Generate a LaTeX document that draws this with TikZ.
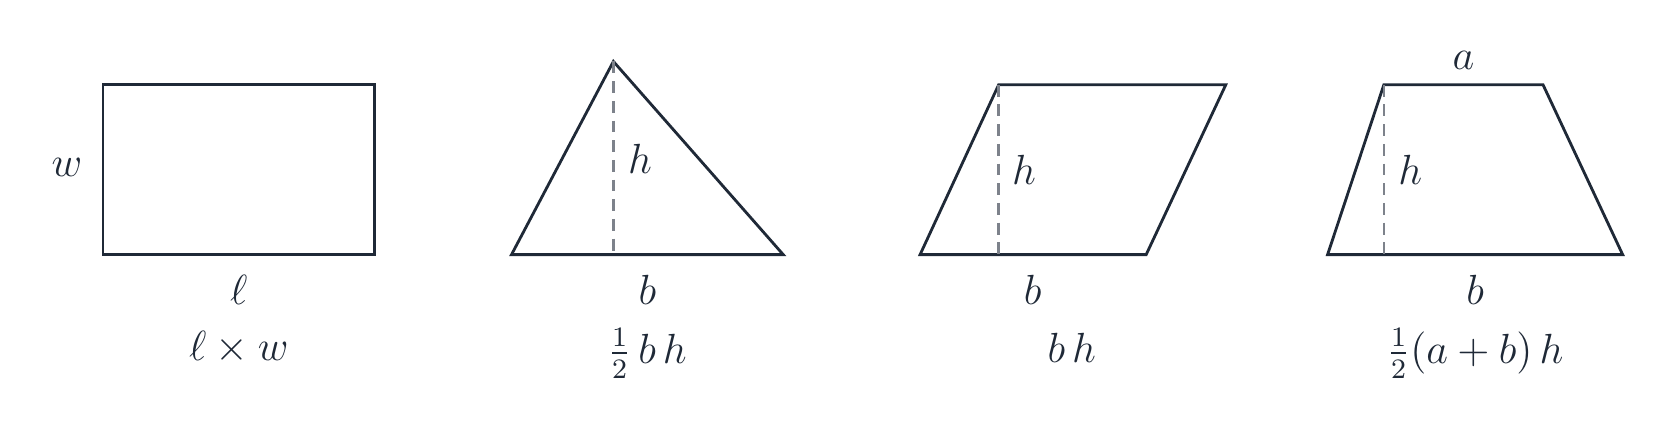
\documentclass[tikz,border=0pt]{standalone}
\usepackage{amsmath}
\definecolor{ink}{RGB}{31,41,55}
\definecolor{hgray}{RGB}{125,130,139}
\tikzset{
  outline/.style={ink,line width=0.8pt,line join=miter},
  altitude/.style={hgray,line width=0.65pt,dash pattern=on 3.4pt off 2.2pt},
  lbl/.style={ink,font=\fontsize{12}{14}\selectfont}
}
\begin{document}
\begin{tikzpicture}[scale=1.0612]
   \useasboundingbox (0,0.25) rectangle (15.68,4.33);
   % rectangle
   \begin{scope}[xshift=0.97cm]
    \coordinate (r1) at (0,1.93);
    \coordinate (r2) at (2.56,3.53);
    \draw[outline] (r1) rectangle (r2);
    \node[lbl] (rw) at (-0.34,2.75) {$w$};
    \node[lbl] (rl) at (1.28,1.60) {$\ell$};
    \node[lbl] (rA) at (1.28,1.05) {$\ell\times w$};
   \end{scope}
   % triangle
   \begin{scope}[xshift=4.82cm]
    \coordinate (t1) at (0,1.93);
    \coordinate (t2) at (2.56,1.93);
    \coordinate (t3) at (0.96,3.75);
    \coordinate (tf) at (0.96,1.93);
    \draw[outline] (t1) -- (t2) -- (t3) -- cycle;
    \draw[altitude] (t3) -- (tf);
    \node[lbl] (th) at (1.21,2.83) {$h$};
    \node[lbl] (tb) at (1.28,1.60) {$b$};
    \node[lbl] (tA) at (1.28,1.00) {$\tfrac{1}{2}\,b\,h$};
   \end{scope}
   % parallelogram
   \begin{scope}[xshift=8.67cm]
    \coordinate (p1) at (0,1.93);
    \coordinate (p2) at (2.13,1.93);
    \coordinate (p3) at (2.88,3.53);
    \coordinate (p4) at (0.74,3.53);
    \coordinate (pf) at (0.74,1.93);
    \draw[outline] (p1) -- (p2) -- (p3) -- (p4) -- cycle;
    \draw[altitude] (p4) -- (pf);
    \node[lbl] (ph) at (0.98,2.73) {$h$};
    \node[lbl] (pb) at (1.06,1.60) {$b$};
    \node[lbl] (pA) at (1.43,1.05) {$b\,h$};
   \end{scope}
   % trapezoid
   \begin{scope}[xshift=12.51cm]
    \coordinate (z1) at (0,1.93);
    \coordinate (z2) at (2.78,1.93);
    \coordinate (z3) at (2.03,3.53);
    \coordinate (z4) at (0.53,3.53);
    \coordinate (zf) at (0.53,1.93);
    \draw[outline] (z1) -- (z2) -- (z3) -- (z4) -- cycle;
    \draw[altitude] (z4) -- (zf);
    \node[lbl] (za) at (1.28,3.76) {$a$};
    \node[lbl] (zh) at (0.78,2.73) {$h$};
    \node[lbl] (zb) at (1.39,1.60) {$b$};
    \node[lbl] (zA) at (1.39,1.00) {$\tfrac{1}{2}(a+b)\,h$};
   \end{scope}
  \end{tikzpicture}
\end{document}
